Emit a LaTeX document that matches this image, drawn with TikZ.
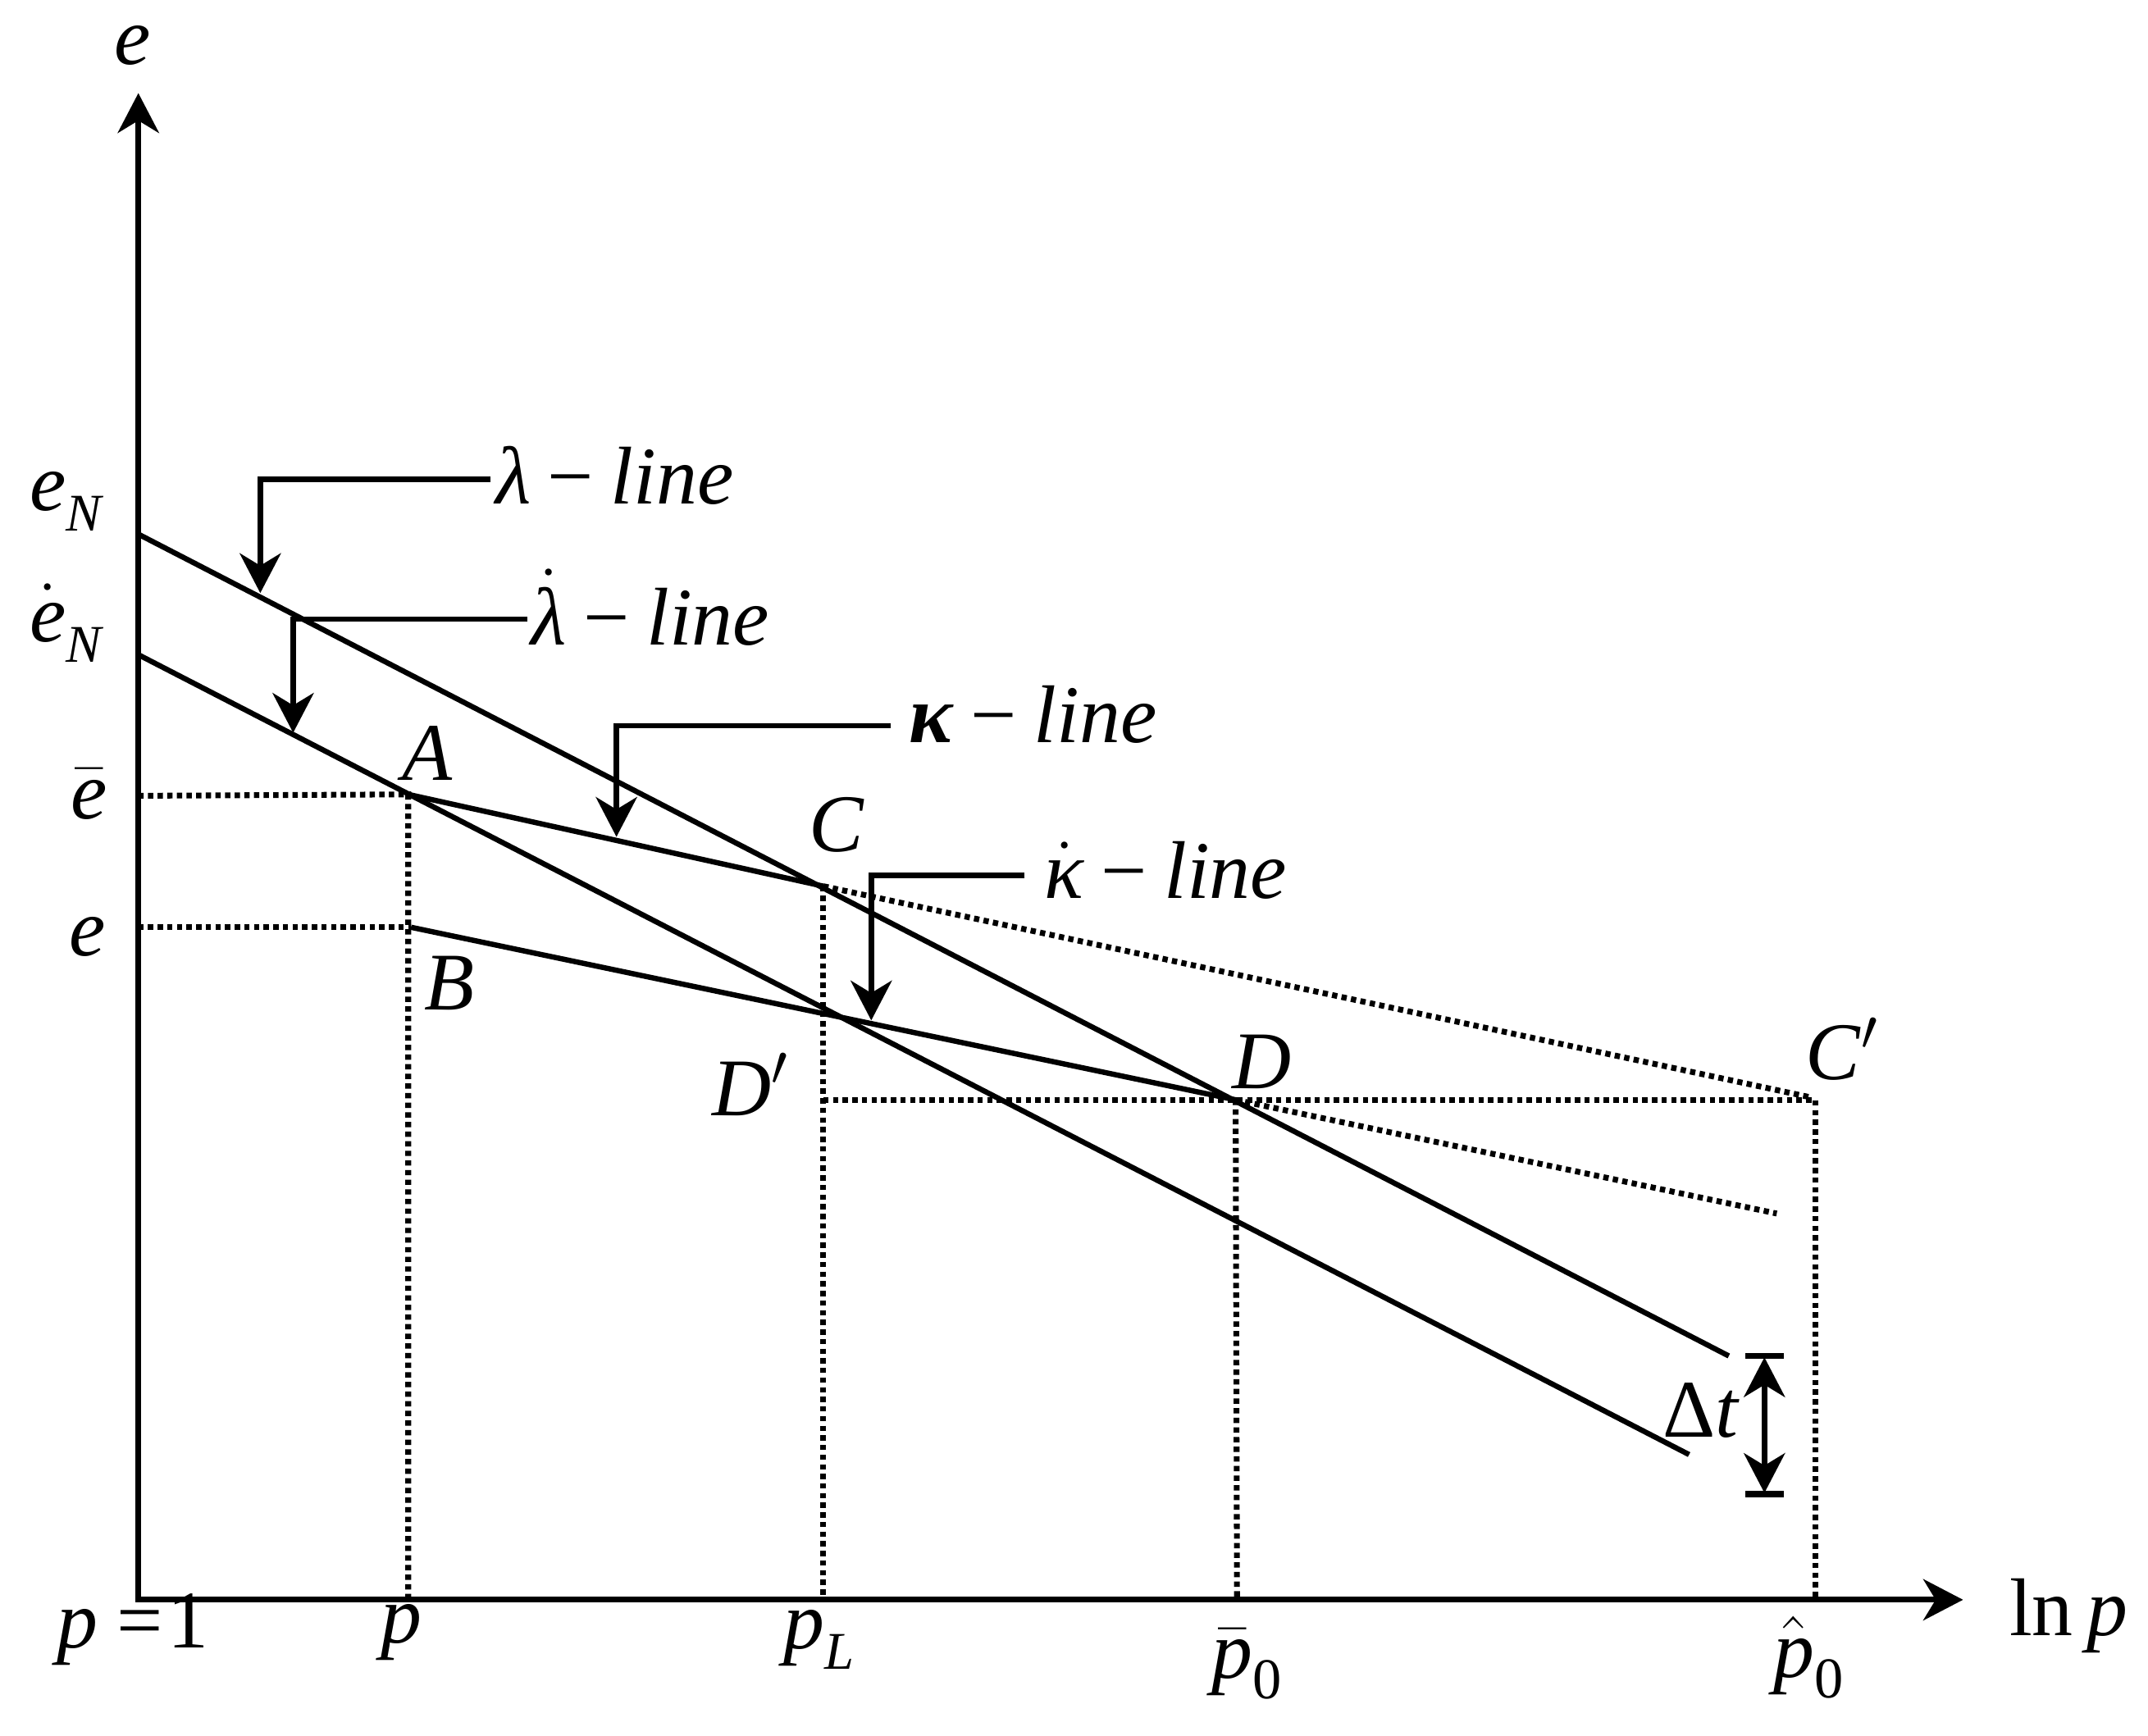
\documentclass[tikz,border=0pt]{standalone}
\usepackage{fontspec}
\setmainfont{Liberation Serif}
\usetikzlibrary{arrows.meta}
\newcommand\subx[1]{\raisebox{-0.55ex}{\fontsize{11}{12}\selectfont\itshape #1}}
\newcommand\subz[1]{\raisebox{-0.55ex}{\fontsize{12}{13}\selectfont #1}}
\newcommand\dotit[1]{$\dot{\mbox{\itshape #1}}$}
\newcommand\barit[1]{$\bar{\mbox{\itshape #1}}$}
\newcommand\hatit[1]{$\hat{\mbox{\itshape #1}}$}
\newcommand\mns{\kern3.5pt−\kern3.5pt}
\begin{document}
\begin{tikzpicture}[x=0.01cm,y=-0.01cm,
  >={Stealth[length=0.29cm,width=0.30cm,inset=0.09cm]},
  ax/.style={line width=1.2pt},
  curve/.style={line width=1.1pt},
  dots/.style={line width=1.2pt,dash pattern=on 1.1pt off 0.9pt},
  lab/.style={inner sep=0pt,font=\fontsize{17}{20}\selectfont}]
\useasboundingbox (0,0) rectangle (1568,1267);
% key points
\coordinate (O) at (101,1168);
\coordinate (Ytop) at (101,68);
\coordinate (Xtip) at (1433,1168);
\coordinate (L1s) at (101,390);
\coordinate (L1e) at (1262,990);
\coordinate (L2s) at (101,478);
\coordinate (L2e) at (1233,1062);
\coordinate (A) at (298,580);
\coordinate (B) at (300,677);
\coordinate (C) at (601,647);
\coordinate (D) at (902,803);
\coordinate (Cp) at (1321,801);
\coordinate (Dp) at (601,803);
\coordinate (Hp) at (1325,803);
\coordinate (Dext) at (1297,886);
\coordinate (Ebar) at (101,581);
\coordinate (Eax) at (101,677);
\coordinate (Pa) at (298,1168);
\coordinate (PL) at (601,1168);
\coordinate (P0) at (903,1168);
\coordinate (Ph) at (1325,1170);
% axes
\draw[ax,<->] (Ytop) -- (O) -- (Xtip);
% dotted guides
\draw[dots] (Ebar) -- (A) -- (Pa);
\draw[dots] (Eax) -- (B);
\draw[dots] (C) -- (PL);
\draw[dots] (D) -- (P0);
\draw[dots] (Dp) -- (Hp) -- (Ph);
\draw[dots] (C) -- (Cp);
\draw[dots] (D) -- (Dext);
% main lines
\draw[curve] (L1s) -- (L1e);
\draw[curve] (L2s) -- (L2e);
\draw[curve] (A) -- (C);
\draw[curve] (B) -- (D);
% pointer arrows
\coordinate (la1) at (358,350); \coordinate (la2) at (190,350); \coordinate (la3) at (190,433);
\draw[curve,->] (la1) -- (la2) -- (la3);
\coordinate (ld1) at (385,452); \coordinate (ld2) at (214,452); \coordinate (ld3) at (214,535);
\draw[curve,->] (ld1) -- (ld2) -- (ld3);
\coordinate (ka1) at (650,530); \coordinate (ka2) at (450,530); \coordinate (ka3) at (450,611);
\draw[curve,->] (ka1) -- (ka2) -- (ka3);
\coordinate (kd1) at (748,639); \coordinate (kd2) at (636,639); \coordinate (kd3) at (636,745);
\draw[curve,->] (kd1) -- (kd2) -- (kd3);
% delta t
\coordinate (dt1) at (1288,991); \coordinate (dt2) at (1288,1090);
\draw[curve,<->] (dt1) -- (dt2);
\draw[line width=1.3pt] (1274,990) -- (1302,990);
\draw[line width=1.3pt] (1274,1091) -- (1302,1091);
% labels
\node[lab] (le) at (97,33) {\textit{e}};
\node[lab] (lnp) at (1510,1180) {ln\,\textit{p}};
\node[lab] (leN) at (48,366) {\textit{e}\subx{N}};
\node[lab] (ledN) at (48,455) {\dotit{e}\subx{N}};
\node[lab] (lebar) at (65,580) {\barit{e}};
\node[lab] (le2) at (64,684) {\textit{e}};
\node[lab,anchor=base west] (tlam) at (361,368) {\textit{λ}\mns\textit{line}};
\node[lab,anchor=base west] (tlamd) at (387,471) {\dotit{λ}\mns\textit{line}};
\node[lab,anchor=base west] (tkap) at (663,542) {\textbf{\textit{κ}}\mns\textit{line}};
\node[lab,anchor=base west] (tkapd) at (762,656) {\dotit{κ}\mns\textit{line}};
\node[lab] (nA) at (312,550) {\textit{A}};
\node[lab] (nB) at (328,718) {\textit{B}};
\node[lab] (nC) at (611,602) {\textit{C}};
\node[lab] (nD) at (921,775) {\textit{D}};
\node[lab] (nDp) at (548,792) {\textit{D}$'$};
\node[lab] (nCp) at (1345,766) {\textit{C}$'$};
\node[lab] (ndt) at (1242,1030) {Δ\textit{t}};
\node[lab] (bp1) at (97,1190) {\textit{p}\kern4pt=\kern1pt1};
\node[lab] (bp) at (293,1192) {\textit{p}};
\node[lab] (bpL) at (598,1197) {\textit{p}\subx{L}};
\node[lab] (bp0) at (910,1215) {\barit{p}\subz{0}};
\node[lab] (bph) at (1320,1210) {\hatit{p}\subz{0}};
\end{tikzpicture}
\end{document}
